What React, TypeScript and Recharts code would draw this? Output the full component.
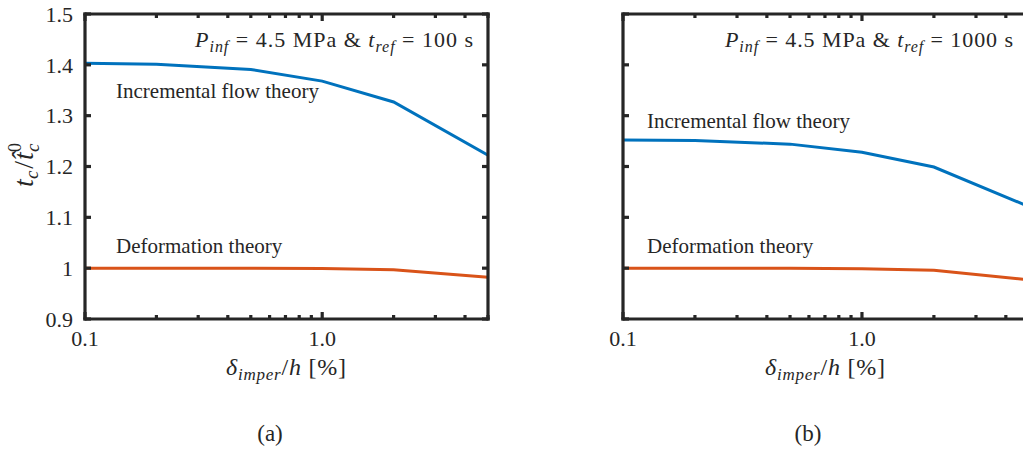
import React from "react";
import { LineChart, Line, XAxis, YAxis } from "recharts";

// imperfection amplitude delta_imper / h [%]
const xValues = [0.1, 0.2, 0.5, 1.0, 2.0, 5.0];

// panel (a): t_ref = 100 s
const incrementalA = [1.403, 1.401, 1.391, 1.368, 1.327, 1.222];
const deformationA = [1.0, 1.0, 1.0, 0.9995, 0.997, 0.982];

// panel (b): t_ref = 1000 s
const incrementalB = [1.252, 1.251, 1.244, 1.228, 1.199, 1.121];
const deformationB = [1.0, 1.0, 1.0, 0.999, 0.996, 0.977];

const xTicks = [0.1, 0.2, 0.3, 0.4, 0.5, 0.6, 0.7, 0.8, 0.9, 1, 2, 3, 4, 5];
const xMajor = [0.1, 1];
const xTickLabels = ["0.1", "1.0"];
const yTicks = [0.9, 1, 1.1, 1.2, 1.3, 1.4, 1.5];
const yTickLabels = ["0.9", "1", "1.1", "1.2", "1.3", "1.4", "1.5"];

const BLUE = "#0072BD";
const ORANGE = "#D95319";
const AXIS = "#262626";
const FONT = "'Liberation Serif', 'Times New Roman', serif";
const AXIS_W = 3.2;

const axisLine = { stroke: AXIS, strokeWidth: AXIS_W, strokeLinecap: "square" as const };

function BottomTick({ x, y, payload }: any) {
  const idx = xMajor.indexOf(payload.value);
  const major = idx >= 0;
  return (
    <g>
      <line x1={x} x2={x} y1={y} y2={y - (major ? 7 : 4)} stroke={AXIS} strokeWidth={AXIS_W} />
      {major && (
        <text x={x} y={y + 27} textAnchor="middle" fontFamily={FONT} fontSize={22} fill={AXIS}>
          {xTickLabels[idx]}
        </text>
      )}
    </g>
  );
}

function TopTick({ x, y, payload }: any) {
  const major = xMajor.includes(payload.value);
  return <line x1={x} x2={x} y1={y} y2={y + (major ? 7 : 4)} stroke={AXIS} strokeWidth={AXIS_W} />;
}

function makeLeftTick(showLabels: boolean) {
  return function LeftTick({ x, y, payload }: any) {
    const idx = yTicks.indexOf(payload.value);
    return (
      <g>
        <line x1={x} x2={x + 6} y1={y} y2={y} stroke={AXIS} strokeWidth={AXIS_W} />
        {showLabels && (
          <text x={x - 12} y={y} dy="0.35em" textAnchor="end" fontFamily={FONT} fontSize={22} fill={AXIS}>
            {yTickLabels[idx]}
          </text>
        )}
      </g>
    );
  };
}

function RightTick({ x, y }: any) {
  return <line x1={x} x2={x - 6} y1={y} y2={y} stroke={AXIS} strokeWidth={AXIS_W} />;
}

const LeftTickLabeled = makeLeftTick(true);
const LeftTickBare = makeLeftTick(false);

interface PanelProps {
  inc: number[];
  def: number[];
  width: number;
  rightWidth: number;
  labels: boolean;
}

function Panel({ inc, def, width, rightWidth, labels }: PanelProps) {
  const data = xValues.map((x, i) => ({ x, inc: inc[i], def: def[i] }));
  return (
    <LineChart
      width={width}
      height={360}
      data={data}
      margin={{ top: 0, left: 0, right: 0, bottom: 0 }}
    >
      <XAxis
        xAxisId="b"
        dataKey="x"
        type="number"
        scale="log"
        domain={[0.1, 5]}
        allowDataOverflow
        ticks={xTicks}
        interval={0}
        height={41}
        tickSize={0}
        tickMargin={0}
        tickLine={false}
        axisLine={axisLine}
        tick={<BottomTick />}
      />
      <XAxis
        xAxisId="t"
        orientation="top"
        dataKey="x"
        type="number"
        scale="log"
        domain={[0.1, 5]}
        allowDataOverflow
        ticks={xTicks}
        interval={0}
        height={14}
        tickSize={0}
        tickMargin={0}
        tickLine={false}
        axisLine={axisLine}
        tick={<TopTick />}
      />
      <YAxis
        yAxisId="l"
        type="number"
        domain={[0.9, 1.5]}
        allowDataOverflow
        ticks={yTicks}
        interval={0}
        width={85}
        tickSize={0}
        tickMargin={0}
        tickLine={false}
        axisLine={axisLine}
        tick={labels ? <LeftTickLabeled /> : <LeftTickBare />}
      />
      <YAxis
        yAxisId="r"
        orientation="right"
        type="number"
        domain={[0.9, 1.5]}
        allowDataOverflow
        ticks={yTicks}
        interval={0}
        width={rightWidth}
        tickSize={0}
        tickMargin={0}
        tickLine={false}
        axisLine={axisLine}
        tick={<RightTick />}
      />
      <Line
        xAxisId="b"
        yAxisId="l"
        type="linear"
        dataKey="inc"
        stroke={BLUE}
        strokeWidth={3}
        dot={false}
        isAnimationActive={false}
      />
      <Line
        xAxisId="b"
        yAxisId="l"
        type="linear"
        dataKey="def"
        stroke={ORANGE}
        strokeWidth={3}
        dot={false}
        isAnimationActive={false}
      />
    </LineChart>
  );
}

function Title({ x, tref, length }: { x: number; tref: string; length: number }) {
  return (
    <text
      x={x}
      y={47}
      textAnchor="end"
      fontFamily={FONT}
      fontSize={22}
      fill={AXIS}
      textLength={length}
      lengthAdjust="spacing"
    >
      <tspan fontStyle="italic">P</tspan>
      <tspan fontStyle="italic" fontSize={16} dy={5}>inf</tspan>
      <tspan dy={-5}>{" = 4.5 MPa & "}</tspan>
      <tspan fontStyle="italic">t</tspan>
      <tspan fontStyle="italic" fontSize={16} dy={5}>ref</tspan>
      <tspan dy={-5}>{` = ${tref} s`}</tspan>
    </text>
  );
}

function XLabel({ cx }: { cx: number }) {
  return (
    <text
      x={cx}
      y={375}
      textAnchor="middle"
      fontFamily={FONT}
      fontSize={24}
      fill={AXIS}
      textLength={120}
      lengthAdjust="spacing"
    >
      <tspan fontStyle="italic">δ</tspan>
      <tspan fontStyle="italic" fontSize={17} dy={5}>imper</tspan>
      <tspan dy={-5}>/</tspan>
      <tspan fontStyle="italic">h</tspan>
      <tspan>{" [%]"}</tspan>
    </text>
  );
}

export default function App() {
  return (
    <div
      style={{
        position: "fixed",
        left: 0,
        top: 0,
        width: 1023,
        height: 454,
        overflow: "hidden",
        background: "#fff",
      }}
    >
      <div style={{ position: "absolute", left: 0, top: 0 }}>
        <Panel inc={incrementalA} def={deformationA} width={520} rightWidth={32} labels />
      </div>
      <div style={{ position: "absolute", left: 538, top: 0 }}>
        <Panel inc={incrementalB} def={deformationB} width={520} rightWidth={29} labels={false} />
      </div>
      <svg
        width={1023}
        height={454}
        style={{ position: "absolute", left: 0, top: 0, pointerEvents: "none" }}
      >
        <Title x={473} tref="100" length={278} />
        <Title x={1013} tref="1000" length={288} />
        <text x={116} y={98} fontFamily={FONT} fontSize={21} fill={AXIS}>Incremental flow theory</text>
        <text x={116} y={253} fontFamily={FONT} fontSize={21} fill={AXIS}>Deformation theory</text>
        <text x={647} y={128} fontFamily={FONT} fontSize={21} fill={AXIS}>Incremental flow theory</text>
        <text x={647} y={253} fontFamily={FONT} fontSize={21} fill={AXIS}>Deformation theory</text>
        <text transform="translate(33,165) rotate(-90)" textAnchor="middle" fontFamily={FONT} fontSize={28} fill={AXIS}>
          <tspan fontStyle="italic">t</tspan>
          <tspan fontStyle="italic" fontSize={19} dy={5}>c</tspan>
          <tspan dy={-5} dx={2}>/</tspan>
          <tspan fontStyle="italic" dx={1}>{"t\u0302"}</tspan>
          <tspan fontSize={18} dy={-12}>0</tspan>
          <tspan fontStyle="italic" fontSize={19} dx={-9} dy={18}>c</tspan>
        </text>
        <XLabel cx={286} />
        <XLabel cx={825} />
        <text x={270} y={441} textAnchor="middle" fontFamily={FONT} fontSize={23} fill={AXIS}>(a)</text>
        <text x={808} y={441} textAnchor="middle" fontFamily={FONT} fontSize={23} fill={AXIS}>(b)</text>
      </svg>
    </div>
  );
}
